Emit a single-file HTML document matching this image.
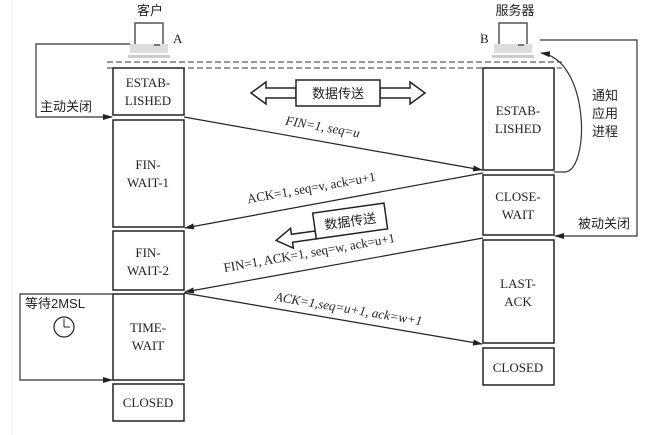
<!DOCTYPE html>
<html><head><meta charset="utf-8"><style>
html,body{margin:0;padding:0;background:#fff;}
svg{display:block;}
text{font-family:"Liberation Serif","Noto Serif CJK SC",serif;fill:#222;}
.cj{font-family:"Liberation Sans","Noto Sans CJK SC",sans-serif;}
</style></head><body>
<svg width="649" height="435" viewBox="0 0 649 435">
<defs>
<marker id="ar" markerWidth="10" markerHeight="6" refX="9" refY="3" orient="auto" markerUnits="userSpaceOnUse"><path d="M0,0 L10,3 L0,6 z" fill="#222"/></marker>
</defs>
<rect x="0" y="0" width="649" height="435" fill="#fff"/>
<line x1="12" y1="0" x2="12" y2="435" stroke="#eee"/>
<g>
<rect x="135" y="23" width="28" height="22" fill="#fff" stroke="#555" stroke-width="1.5"/>
<rect x="130" y="44" width="38" height="9" fill="#ddd"/>
<line x1="154" y1="45" x2="160" y2="45" stroke="#555" stroke-width="1.5"/>
<rect x="128" y="55" width="42" height="3" fill="#ccc"/>
</g>
<g transform="translate(364,0)">
<rect x="135" y="23" width="28" height="22" fill="#fff" stroke="#555" stroke-width="1.5"/>
<rect x="130" y="44" width="38" height="9" fill="#ddd"/>
<line x1="154" y1="45" x2="160" y2="45" stroke="#555" stroke-width="1.5"/>
<rect x="128" y="55" width="42" height="3" fill="#ccc"/>
</g>
<text x="150" y="15" font-size="13" class="cj" text-anchor="middle">客户</text>
<text x="173" y="43" font-size="13">A</text>
<text x="515" y="15" font-size="13" class="cj" text-anchor="middle">服务器</text>
<text x="480" y="43" font-size="13">B</text>
<line x1="107" y1="62" x2="562" y2="62" stroke="#333" stroke-dasharray="6,3"/>
<line x1="107" y1="68" x2="562" y2="68" stroke="#333" stroke-dasharray="6,3"/>
<g fill="none" stroke="#222" stroke-width="1.5">
<rect x="113" y="68" width="71" height="47"/>
<rect x="113" y="120" width="71" height="107"/>
<rect x="113" y="231" width="71" height="59"/>
<rect x="113" y="294" width="71" height="86"/>
<rect x="113" y="384" width="71" height="37"/>
<rect x="483" y="68" width="71" height="102"/>
<rect x="483" y="175" width="71" height="60"/>
<rect x="483" y="240" width="71" height="103"/>
<rect x="483" y="348" width="71" height="37"/>
</g>
<g font-size="13" text-anchor="middle">
<text x="148" y="87">ESTAB-</text><text x="148" y="105">LISHED</text>
<text x="148" y="169">FIN-</text><text x="148" y="187">WAIT-1</text>
<text x="148" y="257">FIN-</text><text x="148" y="275">WAIT-2</text>
<text x="148" y="332">TIME-</text><text x="148" y="350">WAIT</text>
<text x="148" y="407">CLOSED</text>
<text x="518" y="115">ESTAB-</text><text x="518" y="133">LISHED</text>
<text x="518" y="201">CLOSE-</text><text x="518" y="219">WAIT</text>
<text x="518" y="288">LAST-</text><text x="518" y="306">ACK</text>
<text x="518" y="372">CLOSED</text>
</g>
<g fill="none" stroke="#333" stroke-width="1.2">
<polyline points="130,44 36,44 36,117 112,117" marker-end="url(#ar)"/>
<polyline points="540,40 637,40 637,236 555,236" marker-end="url(#ar)"/>
<polyline points="113,294 20,294 20,380 112,380" marker-end="url(#ar)"/>
<path d="M554,172 L565,172 C590,170 590,60 541,53" marker-end="url(#ar)"/>
</g>
<text x="40" y="111" font-size="13" class="cj">主动关闭</text>
<text x="578" y="228" font-size="13" class="cj">被动关闭</text>
<text x="592" y="100" font-size="13" class="cj">通知</text>
<text x="592" y="118" font-size="13" class="cj">应用</text>
<text x="592" y="136" font-size="13" class="cj">进程</text>
<text x="25" y="308" font-size="13" class="cj">等待2MSL</text>
<circle cx="64" cy="327" r="10" fill="#fff" stroke="#222" stroke-width="1.2"/>
<line x1="64" y1="327" x2="64" y2="319" stroke="#222"/><line x1="64" y1="327" x2="70" y2="327" stroke="#222"/>
<g stroke="#222" stroke-width="1.2">
<line x1="184" y1="117" x2="482" y2="170" marker-end="url(#ar)"/>
<line x1="483" y1="173" x2="185" y2="228" marker-end="url(#ar)"/>
<line x1="483" y1="238" x2="185" y2="292" marker-end="url(#ar)"/>
<line x1="184" y1="293" x2="482" y2="344" marker-end="url(#ar)"/>
</g>
<text transform="translate(322,131) rotate(10)" text-anchor="middle" font-size="13" font-style="italic">FIN=1, seq=u</text>
<g font-size="13">
<text transform="translate(312,192) rotate(-10)" text-anchor="middle">ACK=1, seq=v, ack=u+1</text>
<text transform="translate(310,257) rotate(-10)" text-anchor="middle">FIN=1, ACK=1, seq=w, ack=u+1</text>
<text transform="translate(348,313) rotate(9.5)" text-anchor="middle" font-style="italic">ACK=1,seq=u+1, ack=w+1</text>
</g>
<g fill="#fff" stroke="#222" stroke-width="1.5">
<path d="M296,88 L266,88 L266,82 L251,93 L266,104 L266,98 L296,98 z"/>
<path d="M380,88 L410,88 L410,82 L425,93 L410,104 L410,98 L380,98 z"/>
<rect x="296" y="80" width="84" height="26"/>
</g>
<text x="338" y="98" font-size="13" class="cj" text-anchor="middle">数据传送</text>
<g transform="translate(350,220) rotate(-8)">
<path d="M-36,6 L-60,6 L-60,0 L-76,10 L-60,20 L-60,14 L-36,14 z" fill="#fff" stroke="#222" stroke-width="1.5"/>
<rect x="-36" y="-12" width="72" height="26" fill="#fff" stroke="#222" stroke-width="1.5"/>
<text x="0" y="6" font-size="13" class="cj" text-anchor="middle">数据传送</text>
</g>
</svg>
</body></html>
